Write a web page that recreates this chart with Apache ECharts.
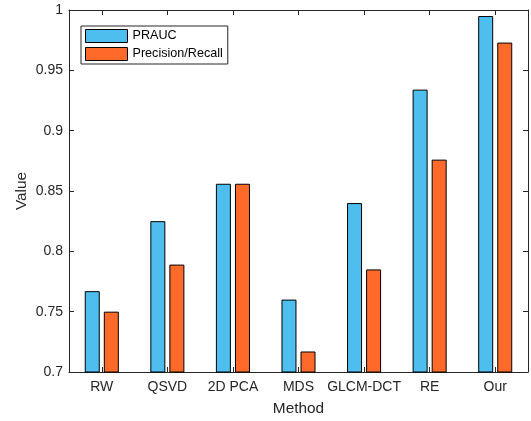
<!DOCTYPE html>
<html><head><meta charset="utf-8">
<script src="https://cdn.jsdelivr.net/npm/echarts@6/dist/echarts.min.js"></script>
<style>html,body{margin:0;padding:0;background:#fff}#c{width:531px;height:421px}</style>
</head><body><div id="c"></div>
<script>
const categories = ['RW','QSVD','2D PCA','MDS','GLCM-DCT','RE','Our'];
const prauc = [0.767, 0.825, 0.856, 0.760, 0.840, 0.934, 0.995];
const precisionRecall = [0.750, 0.789, 0.856, 0.717, 0.785, 0.876, 0.973];
const yTicks = {min: 0.7, max: 1, interval: 0.05};

const font = "'Liberation Sans', Arial, Helvetica, sans-serif";
const ax = '#262626';
const chart = echarts.init(document.getElementById('c'), null, {renderer:'canvas'});
const commonX = {
  type:'category', data: categories, boundaryGap: true,
  axisLine:{show:true, lineStyle:{color:ax, width:1}},
  axisTick:{show:true, inside:true, alignWithLabel:true, interval:0, length:5, lineStyle:{color:ax}},
  splitLine:{show:false}
};
const commonY = {
  type:'value', min: yTicks.min, max: yTicks.max, interval: yTicks.interval,
  axisLine:{show:true, lineStyle:{color:ax, width:1}},
  axisTick:{show:true, inside:true, length:5, lineStyle:{color:ax}},
  splitLine:{show:false}
};
chart.setOption({
  animation:false,
  backgroundColor:'#fff',
  textStyle:{fontFamily:font},
  grid:{left:69, right:3, top:10, bottom:49, containLabel:false},
  legend:{
    orient:'vertical', left:81, top:26,
    icon:'rect',
    itemWidth:42, itemHeight:13, itemGap:4, itemTextGap:4,
    itemStyle:{borderWidth:1, borderColor:'#000'},
    padding:[3,5,3,4],
    borderColor:ax, borderWidth:1, backgroundColor:'#fff',
    textStyle:{fontFamily:font, fontSize:12.6, color:'#000'},
    data:['PRAUC','Precision/Recall']
  },
  xAxis:[
    Object.assign({}, commonX, {position:'bottom',
      name:'Method', nameLocation:'middle', nameGap:29, nameMoveOverlap:false,
      nameTextStyle:{fontFamily:font, fontSize:15.4, color:ax},
      axisLabel:{show:true, interval:0, margin:8, fontFamily:font, fontSize:14, color:ax}}),
    Object.assign({}, commonX, {position:'top', axisLabel:{show:false}})
  ],
  yAxis:[
    Object.assign({}, commonY, {position:'left',
      name:'Value', nameLocation:'middle', nameGap:40, nameMoveOverlap:false,
      nameTextStyle:{fontFamily:font, fontSize:15.4, color:ax},
      axisLabel:{show:true, margin:6, fontFamily:font, fontSize:14, color:ax,
        formatter: v => String(+v.toFixed(2))}}),
    Object.assign({}, commonY, {position:'right', axisLabel:{show:false}})
  ],
  series:[
    {name:'PRAUC', type:'bar', data:prauc, barWidth:15, barGap:'27%',
     itemStyle:{color:'#4DBEEE', borderColor:'#000', borderWidth:1}},
    {name:'Precision/Recall', type:'bar', data:precisionRecall, barWidth:15, barGap:'27%',
     itemStyle:{color:'#FF6A2B', borderColor:'#000', borderWidth:1}}
  ]
});
</script></body></html>
